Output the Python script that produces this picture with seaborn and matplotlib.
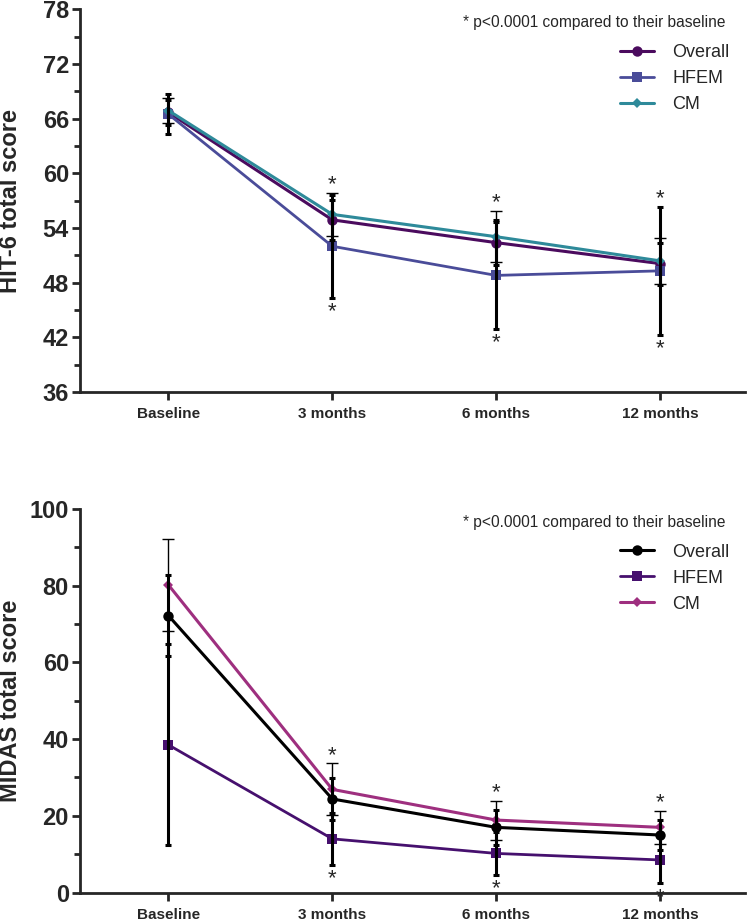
import pandas as pd
import seaborn as sns
import matplotlib
matplotlib.use("Agg")
import matplotlib.pyplot as plt
from matplotlib.ticker import MultipleLocator

timepoints = ["Baseline", "3 months", "6 months", "12 months"]
groups = ["Overall", "HFEM", "CM"]
significant = [False, True, True, True]

# HIT-6 (mean, SD)
hit6_overall = [66.7, 54.9, 52.4, 50.1]
hit6_overall_sd = [1.4, 2.2, 2.5, 2.3]
hit6_hfem = [66.5, 52.0, 48.8, 49.3]
hit6_hfem_sd = [2.2, 5.65, 5.9, 7.0]
hit6_cm = [66.9, 55.5, 53.05, 50.4]
hit6_cm_sd = [1.4, 2.4, 2.8, 2.5]

# MIDAS (mean, SD)
midas_overall = [72.2, 24.4, 17.0, 15.0]
midas_overall_sd = [10.5, 5.55, 4.5, 3.9]
midas_hfem = [38.5, 14.0, 10.2, 8.5]
midas_hfem_sd = [26.2, 6.8, 5.6, 6.1]
midas_cm = [80.2, 26.9, 18.9, 17.0]
midas_cm_sd = [12.0, 6.75, 5.1, 4.3]

hit6_colors = ["#4b0b5e", "#4a4c99", "#2e8a9a"]
midas_colors = ["#000000", "#46106e", "#9e2f7f"]
markers = ["o", "s", "D"]
marker_sizes = [7.5, 7.5, 5.5]
line_widths = [2.2, 2.0, 2.2]

sns.set_style("ticks")
plt.rcParams["font.family"] = ["Liberation Sans", "DejaVu Sans"]


def draw_panel(ax, means, sds, colors, ylim, major, minor, ylabel):
    rows = []
    for g, m in zip(groups, means):
        for i, v in enumerate(m):
            rows.append([i, g, v])
    df = pd.DataFrame(rows, columns=["time", "group", "score"])

    for k, g in enumerate(groups):
        sns.lineplot(data=df[df["group"] == g], x="time", y="score", ax=ax,
                     color=colors[k], marker=markers[k], markersize=marker_sizes[k],
                     markeredgewidth=0, linewidth=line_widths[k], label=g,
                     errorbar=None)

    # error bars, CM drawn thin with wide caps
    for k, g in enumerate(groups):
        x = list(range(len(timepoints)))
        if g == "CM":
            ax.errorbar(x, means[k], yerr=sds[k], fmt="none", ecolor="black",
                        elinewidth=1.0, capsize=4.0, capthick=1.0, zorder=4)
        else:
            ax.errorbar(x, means[k], yerr=sds[k], fmt="none", ecolor="black",
                        elinewidth=2.2, capsize=2.2, capthick=2.2, zorder=5)

    # significance stars above / below the extreme error bars
    for i, sig in enumerate(significant):
        if not sig:
            continue
        hi = max(m[i] + s[i] for m, s in zip(means, sds))
        lo = min(m[i] - s[i] for m, s in zip(means, sds))
        ax.annotate("*", (i, hi), xytext=(0, 2), textcoords="offset points",
                    ha="center", va="baseline", fontsize=16, annotation_clip=False)
        ax.annotate("*", (i, lo), xytext=(0, -14), textcoords="offset points",
                    ha="center", va="baseline", fontsize=16, annotation_clip=False)

    ax.set_xlim(-0.54, 3.52)
    ax.set_ylim(*ylim)
    ax.set_xticks(range(len(timepoints)))
    ax.set_xticklabels(timepoints, fontsize=11, fontweight="bold")
    ax.yaxis.set_major_locator(MultipleLocator(major))
    ax.yaxis.set_minor_locator(MultipleLocator(minor))
    for lab in ax.get_yticklabels():
        lab.set_fontsize(17)
        lab.set_fontweight("bold")
    ax.set_xlabel("")
    ax.set_ylabel(ylabel, fontsize=17, fontweight="bold")
    ax.yaxis.set_label_coords(-0.087, 0.5)
    sns.despine(ax=ax)
    for sp in ["left", "bottom"]:
        ax.spines[sp].set_linewidth(2)
    ax.tick_params(axis="y", which="major", width=2, length=6, pad=2)
    ax.tick_params(axis="x", which="major", width=2, length=6, pad=5)
    ax.tick_params(axis="y", which="minor", width=2, length=4)
    ax.tick_params(axis="x", which="minor", length=0)

    ax.legend(loc="upper left", bbox_to_anchor=(0.812, 0.91), frameon=False,
              fontsize=13, handlelength=1.9, handletextpad=1.0,
              labelspacing=0.5, borderaxespad=0, borderpad=0)
    ax.text(0.971, 0.965, "* p<0.0001 compared to their baseline",
            transform=ax.transAxes, ha="right", va="center", fontsize=11.2)


fig = plt.figure(figsize=(7.49, 9.21), dpi=100)
ax1 = fig.add_axes([0.1068, 0.5744, 0.888, 0.4153])
ax2 = fig.add_axes([0.1068, 0.0309, 0.888, 0.4164])

draw_panel(ax1, [hit6_overall, hit6_hfem, hit6_cm],
           [hit6_overall_sd, hit6_hfem_sd, hit6_cm_sd],
           hit6_colors, (36, 78), 6, 3, "HIT-6 total score")
draw_panel(ax2, [midas_overall, midas_hfem, midas_cm],
           [midas_overall_sd, midas_hfem_sd, midas_cm_sd],
           midas_colors, (0, 100), 20, 10, "MIDAS total score")

fig.savefig("out.png", dpi=100)
